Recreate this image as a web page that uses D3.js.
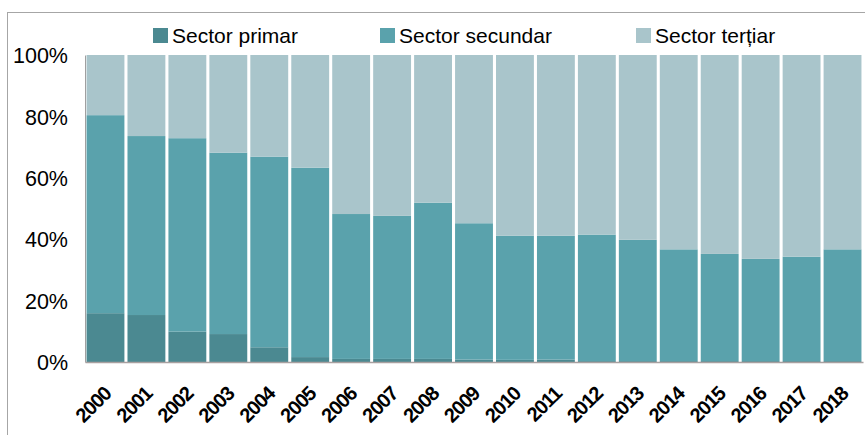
<!DOCTYPE html>
<html>
<head>
<meta charset="utf-8">
<script src="https://cdn.jsdelivr.net/npm/d3@7"></script>
<style>
  body { margin: 0; background: #fff; }
  svg { display: block; font-family: "Liberation Sans", Arial, sans-serif; }
</style>
</head>
<body>
<div id="chart"></div>
<script>
const years = ["2000","2001","2002","2003","2004","2005","2006","2007","2008","2009",
               "2010","2011","2012","2013","2014","2015","2016","2017","2018"];
// share of each sector, percent
const primar   = [15.9, 15.3, 9.9, 9.1, 4.8, 1.6, 1.0, 1.0, 1.0, 0.8, 0.7, 0.8, 0.3, 0.3, 0.3, 0.3, 0.3, 0.3, 0.3];
const secundar = [64.5, 58.3, 63.0, 59.1, 62.1, 61.7, 47.2, 46.6, 50.9, 44.4, 40.4, 40.3, 41.2, 39.5, 36.4, 34.9, 33.3, 34.0, 36.4];
const tertiar  = years.map((y, i) => 100 - primar[i] - secundar[i]);
const seriesNames = ["Sector primar", "Sector secundar", "Sector terțiar"];
const yTicks = [0, 20, 40, 60, 80, 100];

const colors = ["#4b8991", "#5aa2ac", "#a9c5cb"];
const width = 865, height = 435;
const margin = {top: 55, right: 2, bottom: 73, left: 85};

const svg = d3.select("#chart").append("svg")
  .attr("width", width)
  .attr("height", height);

// outer frame
svg.append("rect")
  .attr("x", 7.5).attr("y", 12.5)
  .attr("width", 900).attr("height", 500)
  .attr("fill", "none")
  .attr("stroke", "#a6a6a6");

const rows = years.map((y, i) => ({year: y, "Sector primar": primar[i], "Sector secundar": secundar[i], "Sector terțiar": tertiar[i]}));
const stacked = d3.stack().keys(seriesNames)(rows);

const x = d3.scaleBand()
  .domain(years)
  .range([margin.left, width - margin.right])
  .paddingInner(0.075)
  .paddingOuter(0.0375);

const y = d3.scaleLinear()
  .domain([0, 100])
  .range([height - margin.bottom, margin.top]);

svg.append("g")
  .selectAll("g")
  .data(stacked)
  .join("g")
    .attr("fill", (d, i) => colors[i])
  .selectAll("rect")
  .data(d => d)
  .join("rect")
    .attr("x", d => x(d.data.year))
    .attr("y", d => y(d[1]))
    .attr("height", d => y(d[0]) - y(d[1]))
    .attr("width", x.bandwidth());

// axes
const yAxis = svg.append("g")
  .attr("transform", `translate(${margin.left},0)`)
  .call(d3.axisLeft(y).tickValues(yTicks).tickFormat(d => d + "%").tickSize(0).tickPadding(17));
yAxis.select(".domain").attr("stroke", "#a0a0a0");
yAxis.selectAll("text").attr("font-size", "21.5px").attr("fill", "#000").attr("dy", "0.36em");

const xAxis = svg.append("g")
  .attr("transform", `translate(0,${height - margin.bottom})`)
  .call(d3.axisBottom(x).tickSize(0).tickPadding(0));
xAxis.select(".domain").attr("stroke", "#a8a0a0").attr("stroke-width", 1.5);
xAxis.selectAll("text")
  .attr("font-size", "20px")
  .attr("font-weight", "bold")
  .attr("fill", "#000")
  .attr("letter-spacing", "-1px")
  .attr("text-anchor", "end")
  .attr("dy", null)
  .attr("transform", "translate(7,33) rotate(-45)");

// legend
const legendX = [153, 380, 636];
const legend = svg.append("g")
  .selectAll("g")
  .data(seriesNames)
  .join("g")
    .attr("transform", (d, i) => `translate(${legendX[i]},28)`);
legend.append("rect")
  .attr("width", 15).attr("height", 15)
  .attr("fill", (d, i) => colors[i]);
legend.append("text")
  .attr("x", 19).attr("y", 15)
  .attr("font-size", "21px")
  .attr("fill", "#000")
  .text(d => d);
</script>
</body>
</html>
